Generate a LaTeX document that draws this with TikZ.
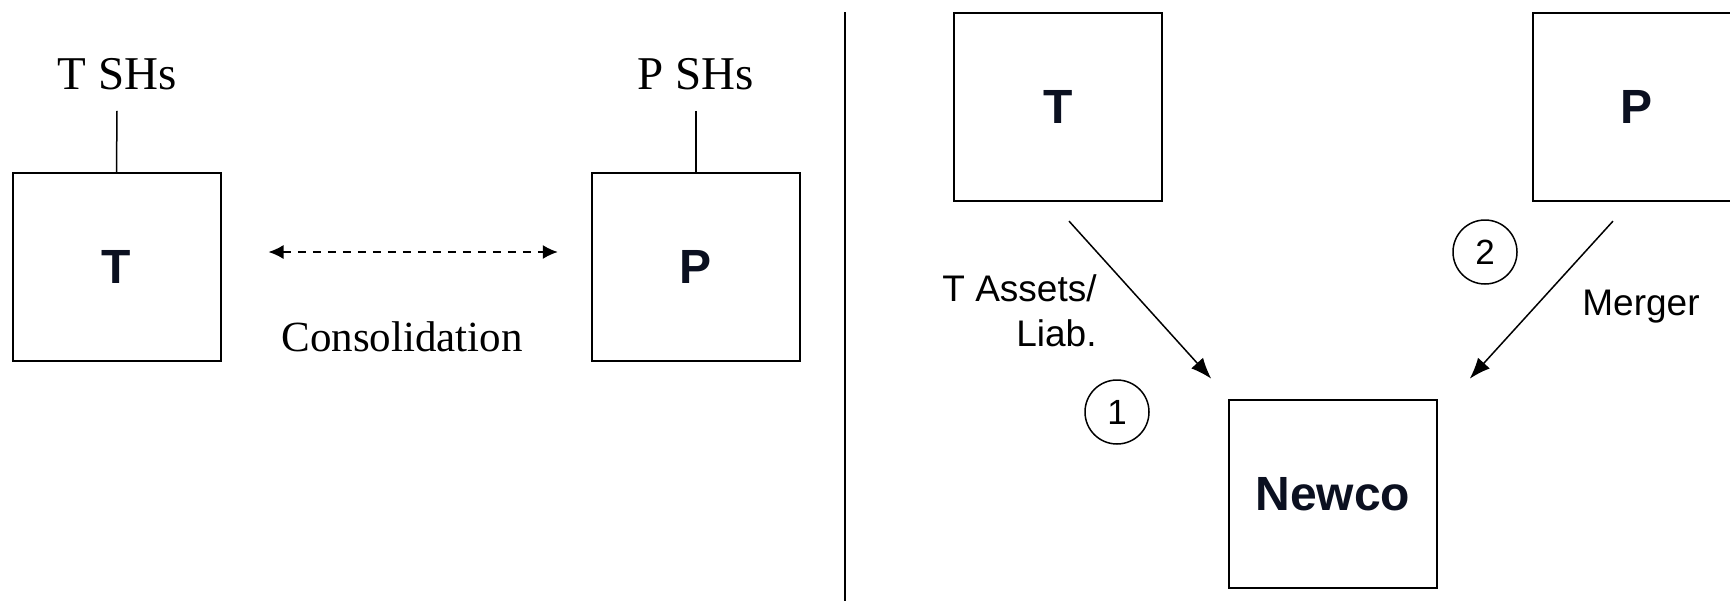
\documentclass[tikz,border=0pt]{standalone}
\usepackage{fontspec}
\setmainfont{Liberation Serif}
\setsansfont{Liberation Sans}
\usetikzlibrary{arrows.meta, positioning, calc}
\definecolor{boxink}{HTML}{0B1020}
\tikzstyle{entity} = [rectangle, draw, line width=1pt, inner sep=0pt, minimum width=104pt, minimum height=94pt, font=\sffamily\bfseries\fontsize{24}{28}\selectfont, text=boxink]
\tikzstyle{shlabel} = [inner xsep=0pt, inner ysep=10.5pt, anchor=base, font=\fontsize{23.5}{28}\selectfont]
\tikzstyle{steplabel} = [circle, draw, line width=0.75pt, minimum size=32pt, inner sep=0pt, font=\sffamily\fontsize{17.5}{21}\selectfont]
\tikzstyle{steptext} = [inner sep=0pt, font=\sffamily\fontsize{18.5}{22.5}\selectfont]
\tikzstyle{arrow} = [line width=0.75pt, -{Latex[length=10.5pt,width=8pt]}]
\tikzstyle{consol} = [line width=0.75pt, dash pattern=on 4pt off 3.5pt, {Latex[length=7.5pt,width=7pt]}-{Latex[length=7.5pt,width=7pt]}]

\begin{document}
\begin{tikzpicture}[x=0.5pt, y=-0.5pt]
    \useasboundingbox (0,0) rectangle (1730,601);
    % Before: two separate companies
    
\node[entity] (tl) at (116.5,266.75) {T};
    
\node[entity] (pl) at (695.75,266.75) {P};
    
\node[shlabel] (tsh) at (117,89) {T SHs};
    
\node[shlabel] (psh) at (695.75,89) {P SHs};
    
\node[anchor=base, inner sep=0pt, font=\fontsize{21.5}{26}\selectfont] (cons) at (402,351) {Consolidation};
    
    \draw[line width=0.75pt] (tsh.south) -- (tl.north);
    \draw[line width=0.75pt] (psh.south) -- (pl.north);
    \draw[consol, shorten <=23.5pt, shorten >=16.5pt] (tl.8) -- (pl.172);
    
    % Divider
    \draw[line width=0.75pt] (845,12) -- (845,601);
    
    % After: both merge into Newco
    
\node[entity] (tr) at (1058.4,106.5) {T};
    
\node[entity] (pr) at (1636.5,106.5) {P};
    
\node[entity] (nc) at (1332.75,494.3) {Newco};
    
\node[steplabel] (one) at (1117,412) {1};
    
\node[steplabel] (two) at (1485,252) {2};
    
\node[steptext, align=right, anchor=east] (assets) at (1097,311) {T Assets/\\Liab.};
    
\node[steptext, anchor=base] (merger) at (1641,315) {Merger};
    
    % Arrows
    \coordinate (a1s) at ($(tr.south)+(10.6,19.6)$);
    \coordinate (a1e) at ($(nc.north west)+(-16.5,-20.6)$);
    \coordinate (a2s) at ($(pr.south)+(-23.5,19.6)$);
    \coordinate (a2e) at ($(nc.north east)+(32,-20.6)$);
    \draw[arrow] (a1s) -- (a1e);
    \draw[arrow] (a2s) -- (a2e);
\end{tikzpicture}
\end{document}
